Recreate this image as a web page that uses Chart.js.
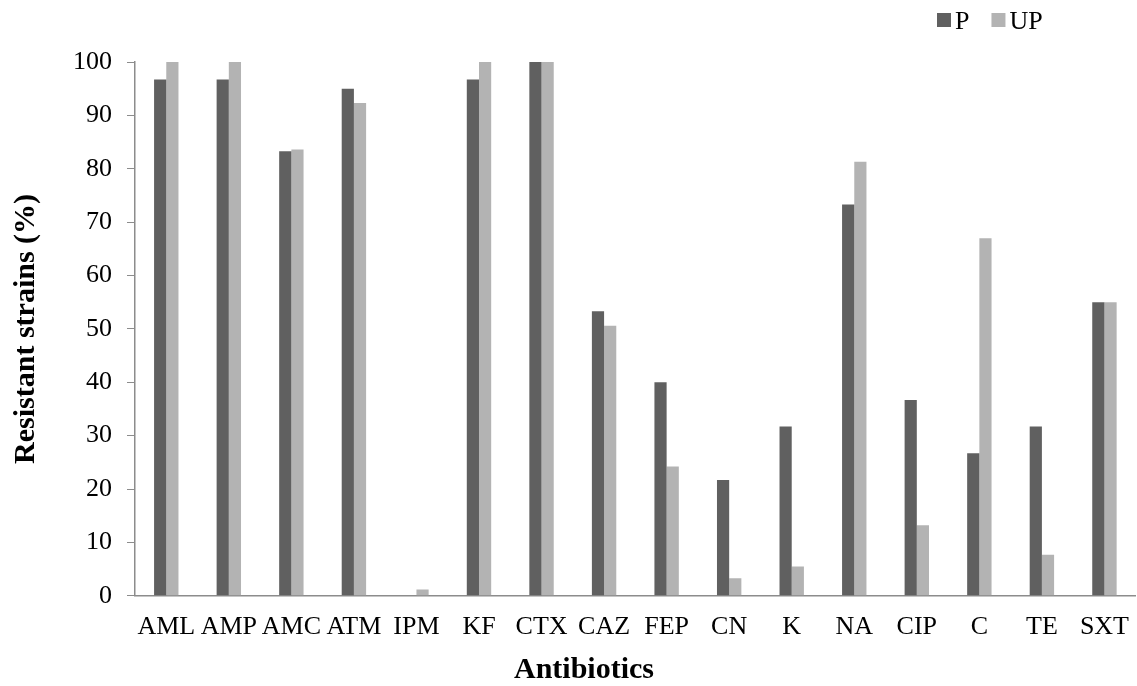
<!DOCTYPE html>
<html>
<head>
<meta charset="utf-8">
<script src="https://cdn.jsdelivr.net/npm/chart.js@4"></script>
<style>
  html, body { margin: 0; padding: 0; background: #fff; }
  #wrap { width: 1137px; height: 686px; }
</style>
</head>
<body>
<div id="wrap"><canvas id="resistChart"></canvas></div>
<script>
// Antibiotic resistance, P vs UP
const antibiotics = ['AML', 'AMP', 'AMC', 'ATM', 'IPM', 'KF', 'CTX', 'CAZ', 'FEP', 'CN', 'K', 'NA', 'CIP', 'C', 'TE', 'SXT'];
const pValues = [96.7, 96.7, 83.3, 95.0, 0, 96.7, 100, 53.3, 40.0, 21.7, 31.7, 73.3, 36.7, 26.7, 31.7, 55.0];
const upValues = [100, 100, 83.6, 92.3, 1.2, 100, 100, 50.6, 24.2, 3.3, 5.5, 81.3, 13.2, 67.0, 7.7, 55.0];
const yTicks = [0, 10, 20, 30, 40, 50, 60, 70, 80, 90, 100];

const serif = '"Liberation Serif", "Times New Roman", serif';
const axisColor = '#8c8c8c';

// legend in the top right corner and the x title, drawn by hand
const extrasPlugin = {
    id: 'extras',
    afterDraw(chart) {
        const c = chart.ctx;
        c.save();
        c.font = '26px ' + serif;
        c.textBaseline = 'alphabetic';
        c.textAlign = 'left';
        let x = 937;
        chart.data.datasets.forEach(ds => {
            c.fillStyle = ds.backgroundColor;
            c.fillRect(x, 13, 14, 14);
            c.fillStyle = '#000';
            c.fillText(ds.label, x + 18, 29);
            x += 18 + c.measureText(ds.label).width + 22;
        });
        c.font = 'bold 30px ' + serif;
        c.textAlign = 'center';
        c.fillText('Antibiotics', 584, 678);
        c.restore();
    }
};

const ctx = document.getElementById('resistChart').getContext('2d');
const resistChart = new Chart(ctx, {
    type: 'bar',
    data: {
        labels: antibiotics,
        datasets: [{
            label: 'P',
            data: pValues,
            backgroundColor: '#606060',
            categoryPercentage: 0.39,
            barPercentage: 1.0
        }, {
            label: 'UP',
            data: upValues,
            backgroundColor: '#b3b3b3',
            categoryPercentage: 0.39,
            barPercentage: 1.0
        }]
    },
    plugins: [extrasPlugin],
    options: {
        responsive: true,
        maintainAspectRatio: false,
        animation: false,
        layout: {
            padding: { top: 62, right: 0, left: 8, bottom: 35 }
        },
        plugins: {
            legend: { display: false },
            tooltip: { enabled: false }
        },
        scales: {
            x: {
                grid: { display: false },
                border: { display: true, color: axisColor, width: 1.5 },
                ticks: {
                    color: '#000',
                    maxRotation: 0,
                    autoSkip: false,
                    padding: 8,
                    font: { family: serif, size: 26 }
                }
            },
            y: {
                min: 0,
                max: 100,
                afterBuildTicks: axis => {
                    axis.ticks = yTicks.map(v => ({ value: v }));
                },
                grid: {
                    drawOnChartArea: false,
                    drawTicks: true,
                    tickLength: 8,
                    color: axisColor
                },
                border: { display: true, color: axisColor, width: 1.5 },
                ticks: {
                    color: '#000',
                    padding: 15,
                    font: { family: serif, size: 26 }
                },
                title: {
                    display: true,
                    text: 'Resistant strains (%)',
                    color: '#000',
                    padding: { top: 0, bottom: 14 },
                    font: { family: serif, size: 30, weight: 'bold' }
                }
            }
        }
    }
});
</script>
</body>
</html>
